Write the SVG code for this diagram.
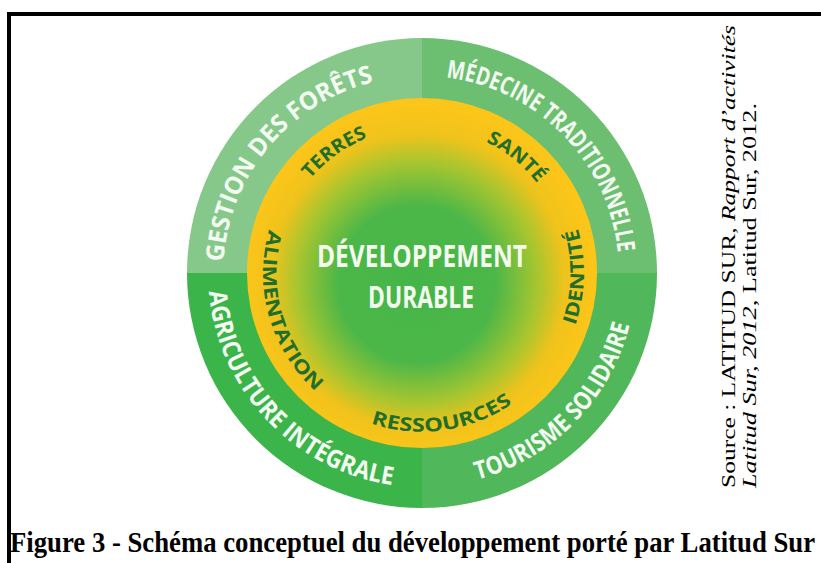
<svg xmlns="http://www.w3.org/2000/svg" xmlns:xlink="http://www.w3.org/1999/xlink" width="821" height="563" viewBox="0 0 821 563">
  <style>
    .ring { font-family: "Open Sans", "DejaVu Sans", sans-serif; font-weight: 700; font-size: 25px; fill: #f3faf1; }
    .inner { font-family: "Open Sans", "DejaVu Sans", sans-serif; font-weight: 700; font-size: 19px; fill: #1f6e2b; }
    .center { font-family: "Open Sans", "DejaVu Sans", sans-serif; font-weight: 700; font-size: 30px; fill: #f4faee; text-anchor: middle; }
    .src { font-family: "Liberation Serif", "Times New Roman", serif; font-size: 19.5px; fill: #000; }
    .cap { font-family: "Liberation Serif", "Times New Roman", serif; font-size: 30px; font-weight: 700; fill: #000; }
  </style>
  <defs>
    <radialGradient id="core" cx="0.49" cy="0.52" r="0.5" fx="0.48" fy="0.54">
      <stop offset="0" stop-color="#45b549"/>
      <stop offset="0.45" stop-color="#4cb748"/>
      <stop offset="0.68" stop-color="#a4c530"/>
      <stop offset="0.84" stop-color="#efc31c"/>
      <stop offset="1" stop-color="#fcc519"/>
    </radialGradient>
    <path id="p-gestion" d="M223.55,262.05 A197,197 0 0 1 374.34,81.85"/>
    <path id="p-medecine" d="M446.01,77.47 A197,197 0 0 1 617.92,252.41"/>
    <path id="p-agri" d="M208.82,291.65 A214,214 0 0 0 392.22,484.92"/>
    <path id="p-tourisme" d="M477.39,479.71 A214,214 0 0 0 629.64,324.77"/>
    <path id="p-terres" d="M310.16,179.15 A146,146 0 0 1 367.31,137.63"/>
    <path id="p-sante" d="M486.0,141.78 A146,146 0 0 1 537.05,183.11"/>
    <path id="p-identite" d="M575.23,325.42 A162,162 0 0 0 577.76,228.62"/>
    <path id="p-ressources" d="M370.89,423.45 A159,159 0 0 0 512.05,403.61"/>
    <path id="p-alimentation" d="M269.08,229.72 A159,159 0 0 0 315.95,391.67"/>
  </defs>

  <rect x="0" y="0" width="821" height="563" fill="#ffffff"/>
  <path d="M9,563 V14 H821" fill="none" stroke="#000" stroke-width="4"/>

  <g id="ring-gestion">
    <path d="M422,273 L187,273 A235,235 0 0 1 422,38 Z" fill="#85c889"/>
    <text class="ring"><textPath xlink:href="#p-gestion" href="#p-gestion" textLength="251" lengthAdjust="spacingAndGlyphs">GESTION DES FORÊTS</textPath></text>
  </g>
  <g id="ring-medecine">
    <path d="M422,273 L422,38 A235,235 0 0 1 657,273 Z" fill="#6cbf70"/>
    <text class="ring"><textPath xlink:href="#p-medecine" href="#p-medecine" textLength="264.7" lengthAdjust="spacingAndGlyphs">MÉDECINE TRADITIONNELLE</textPath></text>
  </g>
  <g id="ring-tourisme">
    <path d="M422,273 L657,273 A235,235 0 0 1 422,508 Z" fill="#50b85a"/>
    <text class="ring"><textPath xlink:href="#p-tourisme" href="#p-tourisme" textLength="227.8" lengthAdjust="spacingAndGlyphs">TOURISME SOLIDAIRE</textPath></text>
  </g>
  <g id="ring-agriculture">
    <path d="M422,273 L422,508 A235,235 0 0 1 187,273 Z" fill="#3bb44a"/>
    <text class="ring"><textPath xlink:href="#p-agri" href="#p-agri" textLength="287.6" lengthAdjust="spacingAndGlyphs">AGRICULTURE INTÉGRALE</textPath></text>
  </g>

  <g id="core-circle">
    <circle cx="422" cy="273" r="175" fill="url(#core)"/>
    <text class="center" x="422" y="267" textLength="210" lengthAdjust="spacingAndGlyphs">DÉVELOPPEMENT</text>
    <text class="center" x="421" y="308" textLength="106" lengthAdjust="spacingAndGlyphs">DURABLE</text>
  </g>

  <g id="inner-terres">
    <text class="inner"><textPath xlink:href="#p-terres" href="#p-terres" textLength="71.3" lengthAdjust="spacingAndGlyphs">TERRES</textPath></text>
  </g>
  <g id="inner-sante">
    <text class="inner"><textPath xlink:href="#p-sante" href="#p-sante" textLength="66.3" lengthAdjust="spacingAndGlyphs">SANTÉ</textPath></text>
  </g>
  <g id="inner-identite">
    <text class="inner"><textPath xlink:href="#p-identite" href="#p-identite" textLength="98.4" lengthAdjust="spacingAndGlyphs">IDENTITÉ</textPath></text>
  </g>
  <g id="inner-ressources">
    <text class="inner"><textPath xlink:href="#p-ressources" href="#p-ressources" textLength="148" lengthAdjust="spacingAndGlyphs">RESSOURCES</textPath></text>
  </g>
  <g id="inner-alimentation">
    <text class="inner"><textPath xlink:href="#p-alimentation" href="#p-alimentation" textLength="177" lengthAdjust="spacingAndGlyphs">ALIMENTATION</textPath></text>
  </g>

  <g id="source">
    <text class="src" transform="translate(735,488) rotate(-90)" textLength="463" lengthAdjust="spacingAndGlyphs">Source : LATITUD SUR, <tspan font-style="italic">Rapport d’activités</tspan></text>
    <text class="src" transform="translate(756,488) rotate(-90)" textLength="385" lengthAdjust="spacingAndGlyphs"><tspan font-style="italic">Latitud Sur, 2012</tspan>, Latitud Sur, 2012.</text>
  </g>

  <g id="caption">
    <text class="cap" x="10" y="552" textLength="805" lengthAdjust="spacingAndGlyphs">Figure 3 - Schéma conceptuel du développement porté par Latitud Sur</text>
  </g>
</svg>
